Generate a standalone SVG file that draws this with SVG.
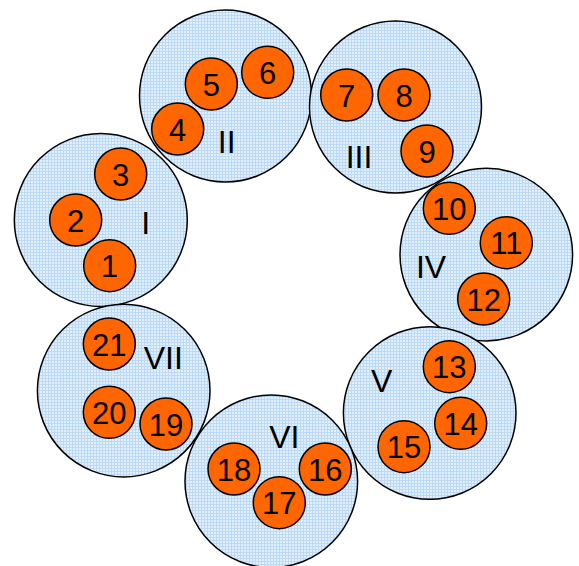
<svg xmlns="http://www.w3.org/2000/svg" width="579" height="566" viewBox="0 0 579 566">
<defs>
<pattern id="grid" width="3" height="3" patternUnits="userSpaceOnUse">
<rect width="3" height="3" fill="#e2f0fe"/>
<path d="M0 0.5H3M0.5 0V3" stroke="#bcd9f6" stroke-width="1"/>
</pattern>
</defs>
<style>
.big{fill:url(#grid);stroke:#000;stroke-width:1.5}
.sm{fill:#ff6600;stroke:#000;stroke-width:1.5}
.n{font-family:"Liberation Sans",Arial,sans-serif;font-size:31px;text-anchor:middle;fill:#000}
.l{font-family:"Liberation Sans",Arial,sans-serif;font-size:32px;text-anchor:middle;fill:#000}
</style>
<rect width="579" height="566" fill="#fff"/>
<g id="clusters">
<g id="I"><circle class="big" cx="100.8" cy="220" r="86.5"/><text class="l" x="145.7" y="234">I</text></g>
<g id="II"><circle class="big" cx="225.5" cy="96" r="86"/><text class="l" x="226.7" y="153">II</text></g>
<g id="III"><circle class="big" cx="395.5" cy="107" r="86"/><text class="l" x="359" y="168">III</text></g>
<g id="IV"><circle class="big" cx="486.3" cy="254.6" r="86.3"/><text class="l" x="431" y="278">IV</text></g>
<g id="V"><circle class="big" cx="429.7" cy="413" r="86.3"/><text class="l" x="381.7" y="392">V</text></g>
<g id="VI"><circle class="big" cx="271.3" cy="481.3" r="86.3"/><text class="l" x="284.3" y="448">VI</text></g>
<g id="VII"><circle class="big" cx="123.7" cy="390.6" r="86.3"/><text class="l" x="163.3" y="369">VII</text></g>
</g>
<g id="connectors"/>
<g id="n1"><circle class="sm" cx="109.7" cy="265.7" r="26"/><text class="n" x="109.7" y="277.2">1</text></g>
<g id="n2"><circle class="sm" cx="75.7" cy="220" r="26"/><text class="n" x="75.7" y="231.5">2</text></g>
<g id="n3"><circle class="sm" cx="120.7" cy="174" r="26"/><text class="n" x="120.7" y="185.5">3</text></g>
<g id="n4"><circle class="sm" cx="177.7" cy="129" r="26"/><text class="n" x="177.7" y="140.5">4</text></g>
<g id="n5"><circle class="sm" cx="211.3" cy="84" r="26"/><text class="n" x="211.3" y="95.5">5</text></g>
<g id="n6"><circle class="sm" cx="267.7" cy="72.3" r="26"/><text class="n" x="267.7" y="83.8">6</text></g>
<g id="n7"><circle class="sm" cx="346.7" cy="95" r="26"/><text class="n" x="346.7" y="106.5">7</text></g>
<g id="n8"><circle class="sm" cx="404" cy="95" r="26"/><text class="n" x="404" y="106.5">8</text></g>
<g id="n9"><circle class="sm" cx="427" cy="151" r="26"/><text class="n" x="427" y="162.5">9</text></g>
<g id="n10"><circle class="sm" cx="449.3" cy="208.3" r="26"/><text class="n" x="449.3" y="219.8">10</text></g>
<g id="n11"><circle class="sm" cx="506.3" cy="242.7" r="26"/><text class="n" x="506.3" y="254.2">11</text></g>
<g id="n12"><circle class="sm" cx="483.7" cy="299" r="26"/><text class="n" x="483.7" y="310.5">12</text></g>
<g id="n13"><circle class="sm" cx="449.3" cy="366.7" r="26"/><text class="n" x="449.3" y="378.2">13</text></g>
<g id="n14"><circle class="sm" cx="460.7" cy="423.3" r="26"/><text class="n" x="460.7" y="434.8">14</text></g>
<g id="n15"><circle class="sm" cx="404" cy="446.7" r="26"/><text class="n" x="404" y="458.2">15</text></g>
<g id="n16"><circle class="sm" cx="325.3" cy="469" r="26"/><text class="n" x="325.3" y="480.5">16</text></g>
<g id="n17"><circle class="sm" cx="279.3" cy="502.7" r="26"/><text class="n" x="279.3" y="514.2">17</text></g>
<g id="n18"><circle class="sm" cx="234" cy="469" r="26"/><text class="n" x="234" y="480.5">18</text></g>
<g id="n19"><circle class="sm" cx="166" cy="424" r="26"/><text class="n" x="166" y="435.5">19</text></g>
<g id="n20"><circle class="sm" cx="109.3" cy="412.3" r="26"/><text class="n" x="109.3" y="423.8">20</text></g>
<g id="n21"><circle class="sm" cx="109.3" cy="344" r="26"/><text class="n" x="109.3" y="355.5">21</text></g>
</svg>
